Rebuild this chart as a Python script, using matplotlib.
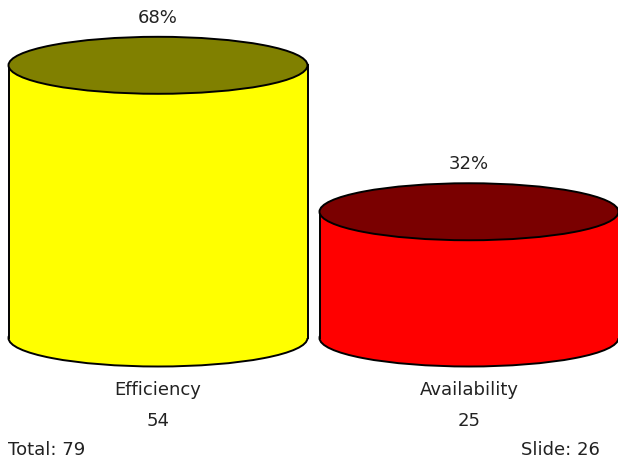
import matplotlib.pyplot as plt
from matplotlib.patches import Ellipse, Rectangle

# data
categories = ['Efficiency', 'Availability']
values = [54, 25]
body_colors = ['#FFFF00', '#FF0000']
top_colors = ['#808000', '#7A0000']
total = sum(values)
slide_no = 26

plt.rcParams['font.family'] = ['DejaVu Sans']

fig = plt.figure(figsize=(6.18, 4.62), dpi=100)
ax = fig.add_axes([0, 0, 1, 1])
# x in pixels, y in value units (5.05 px per unit, baseline at pixel row 338)
px = 5.05
ax.set_xlim(0, 618)
ax.set_ylim(-(462 - 338) / px, 338 / px)
ax.axis('off')

centers = [158, 469]
width = 299
eh = 57 / px  # ellipse full height in value units
txt = '#222222'
lw = 1.4

for c, v, name, bc, tc in zip(centers, values, categories, body_colors, top_colors):
    left = c - width / 2
    # bottom ellipse
    ax.add_patch(Ellipse((c, 0), width, eh, facecolor=bc, edgecolor='black', lw=lw, zorder=1))
    # body
    ax.add_patch(Rectangle((left, 0), width, v, facecolor=bc, edgecolor='none', zorder=2))
    ax.plot([left, left], [0, v], color='black', lw=lw, zorder=3)
    ax.plot([left + width, left + width], [0, v], color='black', lw=lw, zorder=3)
    # top ellipse
    ax.add_patch(Ellipse((c, v), width, eh, facecolor=tc, edgecolor='black', lw=lw, zorder=4))
    # labels
    ax.text(c, v + eh / 2 + 19 / px, f'{v / total:.0%}', ha='center', va='center',
            fontsize=13, color=txt)
    ax.text(c, -(390 - 338) / px, name, ha='center', va='center', fontsize=13, color=txt)
    ax.text(c, -(421 - 338) / px, str(v), ha='center', va='center', fontsize=13, color=txt)

ax.text(8, -(450 - 338) / px, f'Total: {total}', ha='left', va='center', fontsize=13, color=txt)
ax.text(600, -(450 - 338) / px, f'Slide: {slide_no}', ha='right', va='center', fontsize=13, color=txt)

plt.savefig('out.png', dpi=100)
